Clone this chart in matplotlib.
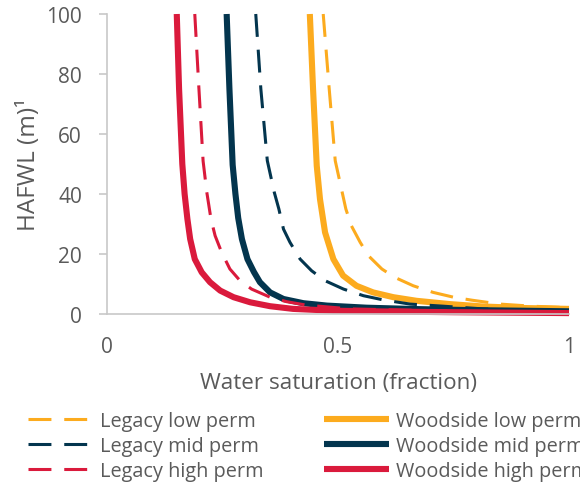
import matplotlib
matplotlib.use("Agg")
import matplotlib.pyplot as plt

plt.rcParams['font.family'] = ['Open Sans', 'DejaVu Sans']

# Water saturation (fraction) / HAFWL (m)
legacy_low_sw = [0.468, 0.481, 0.494, 0.517, 0.529, 0.548, 0.566, 0.595, 0.623, 0.663, 0.706, 0.750,
                 0.790, 0.851, 0.920, 1.0]
legacy_low_h = [100, 75, 51.1, 35.0, 29.4, 23.9, 19.4, 15.0, 12.2, 9.4, 7.2, 5.6,
                4.6, 3.3, 2.6, 2.1]

legacy_mid_sw = [0.322, 0.333, 0.347, 0.362, 0.372, 0.382, 0.396, 0.418, 0.443, 0.472, 0.512, 0.555,
                 0.598, 0.656, 0.728, 0.814, 0.90, 1.0]
legacy_mid_h = [100, 75, 51.1, 40.6, 35.0, 28.3, 23.9, 18.3, 14.4, 11.1, 8.3, 6.1,
                4.7, 3.3, 2.6, 1.7, 1.3, 1.0]

legacy_high_sw = [0.190, 0.199, 0.208, 0.216, 0.225, 0.234, 0.248, 0.266, 0.288, 0.313, 0.353, 0.389,
                  0.430, 0.526, 0.740, 1.0]
legacy_high_h = [100, 75, 51.0, 40.6, 31.7, 26.1, 20.6, 15.0, 11.1, 8.3, 5.6, 4.1,
                 3.0, 1.7, 1.0, 0.5]

ws_low_sw = [0.439, 0.446, 0.454, 0.461, 0.472, 0.490, 0.511, 0.540, 0.576, 0.620, 0.670, 0.742,
             0.814, 0.900, 1.0]
ws_low_h = [100, 75, 49.4, 38.3, 27.2, 18.3, 12.8, 9.4, 7.2, 5.6, 4.4, 3.3,
            2.5, 2.0, 1.7]

ws_mid_sw = [0.259, 0.265, 0.272, 0.278, 0.284, 0.292, 0.304, 0.318, 0.331, 0.353, 0.382, 0.425,
             0.476, 0.562, 0.680, 0.786, 1.0]
ws_mid_h = [100, 75, 49.7, 40.0, 32.0, 25.0, 18.3, 14.0, 10.6, 7.2, 5.0, 3.6,
            2.8, 2.1, 1.6, 1.3, 0.9]

ws_high_sw = [0.151, 0.156, 0.163, 0.168, 0.174, 0.180, 0.190, 0.205, 0.223, 0.245, 0.274, 0.310,
              0.353, 0.403, 0.489, 0.620, 0.750, 1.0]
ws_high_h = [100, 75, 50.0, 40.0, 31.7, 25.0, 18.3, 13.9, 10.6, 7.8, 5.6, 3.9,
             2.6, 1.7, 1.1, 0.8, 0.6, 0.3]

ORANGE = "#FCAB1E"
NAVY = "#03354E"
RED = "#DA1A3C"
TEXT = "#5A5A5A"
GRID = "#C8C8C8"

fig = plt.figure(figsize=(5.8, 4.85), dpi=100)
ax = fig.add_axes([107/580, 1-315/485, (569-107)/580, 300/485])

dash = (7.5, 4.2)
lw_d = 2.2
lw_s = 4.4

kw_s = dict(lw=lw_s, solid_capstyle='butt', solid_joinstyle='round', clip_on=False)
kw_d = dict(lw=lw_d, dashes=dash, dash_joinstyle='round', clip_on=False)

h_ll, = ax.plot(legacy_low_sw, legacy_low_h, color=ORANGE, label="Legacy low perm", **kw_d)
h_wl, = ax.plot(ws_low_sw, ws_low_h, color=ORANGE, label="Woodside low perm", **kw_s)
h_lm, = ax.plot(legacy_mid_sw, legacy_mid_h, color=NAVY, label="Legacy mid perm", **kw_d)
h_wm, = ax.plot(ws_mid_sw, ws_mid_h, color=NAVY, label="Woodside mid perm", **kw_s)
h_lh, = ax.plot(legacy_high_sw, legacy_high_h, color=RED, label="Legacy high perm", **kw_d)
h_wh, = ax.plot(ws_high_sw, ws_high_h, color=RED, label="Woodside high perm", **kw_s)

ax.set_xlim(0, 1)
ax.set_ylim(0, 100)
ax.set_xticks([0, 0.5, 1])
ax.set_xticklabels(["0", "0.5", "1"])
ax.set_yticks([0, 20, 40, 60, 80, 100])

for s in ["top", "right"]:
    ax.spines[s].set_visible(False)
for s in ["left", "bottom"]:
    ax.spines[s].set_color(GRID)
    ax.spines[s].set_linewidth(1.2)

ax.tick_params(axis='y', colors=GRID, length=6, width=1.2, pad=12, labelsize=15, labelcolor=TEXT)
ax.tick_params(axis='x', length=0, pad=16, labelsize=15, labelcolor=TEXT)

ax.set_xlabel("Water saturation (fraction)", fontsize=16.2, color=TEXT, labelpad=11)
ax.set_ylabel("HAFWL (m)\u00b9", fontsize=17.5, color=TEXT, labelpad=4)

leg = fig.legend(handles=[h_ll, h_lm, h_lh, h_wl, h_wm, h_wh], ncol=2, loc='upper left',
                 bbox_to_anchor=(28/580, 1-412/485), frameon=False, fontsize=14.3,
                 handlelength=3.3, handletextpad=0.35, columnspacing=3.0,
                 labelspacing=0.26, borderpad=0, borderaxespad=0)
for t in leg.get_texts():
    t.set_color(TEXT)

fig.savefig("out.png", dpi=100)
